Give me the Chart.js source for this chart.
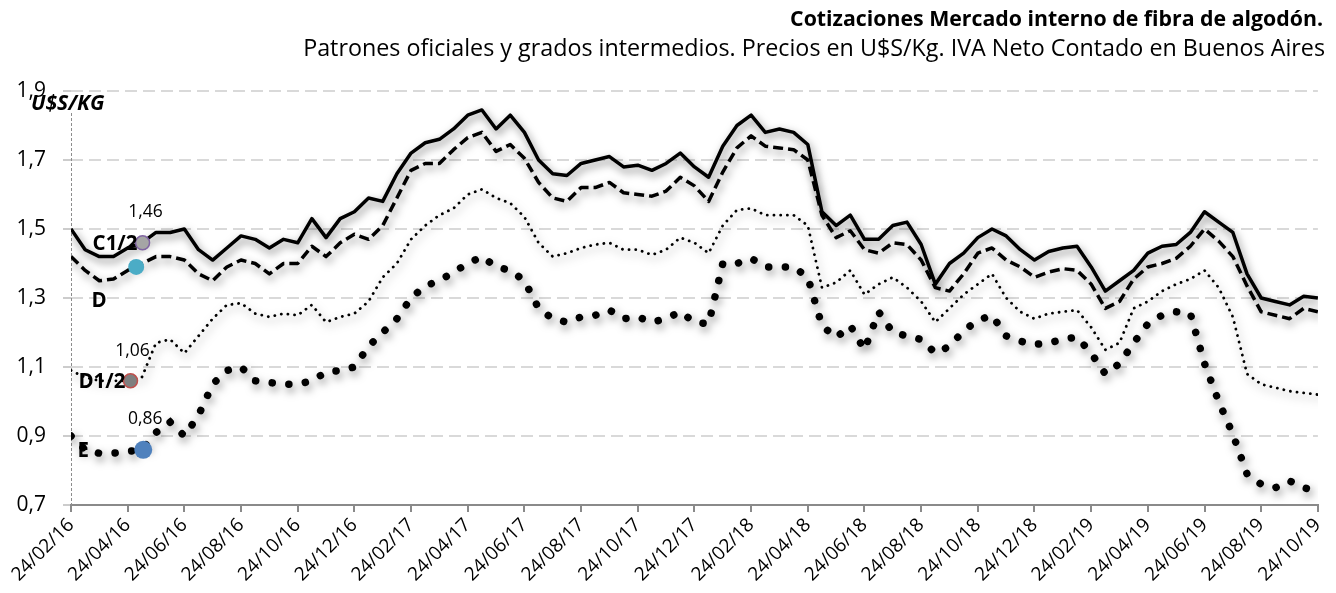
<!DOCTYPE html>
<html>
<head>
<meta charset="utf-8">
<script src="https://cdn.jsdelivr.net/npm/chart.js@4.4.1/dist/chart.umd.min.js"></script>
<style>
  html, body { margin: 0; padding: 0; background: #fff; }
</style>
</head>
<body>
<canvas id="the-graph" width="1336" height="593"></canvas>
<script>
// x ticks every two months, data every half month (index 0..88)
var tickLabels = ['24/02/16', '24/04/16', '24/06/16', '24/08/16', '24/10/16', '24/12/16',
  '24/02/17', '24/04/17', '24/06/17', '24/08/17', '24/10/17', '24/12/17',
  '24/02/18', '24/04/18', '24/06/18', '24/08/18', '24/10/18', '24/12/18',
  '24/02/19', '24/04/19', '24/06/19', '24/08/19', '24/10/19'];

var c12 = [1.50, 1.44, 1.42, 1.42, 1.445, 1.46, 1.49, 1.49, 1.50, 1.44,
  1.41, 1.445, 1.48, 1.47, 1.445, 1.47, 1.46, 1.53, 1.475, 1.53,
  1.55, 1.59, 1.58, 1.66, 1.72, 1.75, 1.76, 1.79, 1.83, 1.845,
  1.79, 1.83, 1.78, 1.70, 1.66, 1.655, 1.69, 1.70, 1.71, 1.68,
  1.685, 1.67, 1.69, 1.72, 1.68, 1.65, 1.74, 1.80, 1.83, 1.78,
  1.79, 1.78, 1.745, 1.55, 1.51, 1.54, 1.47, 1.47, 1.51, 1.52,
  1.455, 1.34, 1.40, 1.43, 1.475, 1.50, 1.48, 1.44, 1.41, 1.435,
  1.445, 1.45, 1.39, 1.32, 1.35, 1.38, 1.43, 1.45, 1.455, 1.49,
  1.55, 1.52, 1.49, 1.37, 1.30, 1.29, 1.28, 1.305, 1.30];

var d = [1.42, 1.38, 1.35, 1.355, 1.38, 1.40, 1.42, 1.42, 1.41, 1.37,
  1.35, 1.39, 1.41, 1.40, 1.37, 1.40, 1.40, 1.45, 1.42, 1.46,
  1.485, 1.47, 1.51, 1.59, 1.67, 1.69, 1.69, 1.73, 1.765, 1.78,
  1.725, 1.745, 1.705, 1.635, 1.59, 1.58, 1.62, 1.62, 1.635, 1.605,
  1.60, 1.595, 1.61, 1.65, 1.625, 1.58, 1.665, 1.735, 1.77, 1.74,
  1.735, 1.73, 1.70, 1.54, 1.475, 1.495, 1.44, 1.43, 1.46, 1.455,
  1.41, 1.33, 1.32, 1.37, 1.43, 1.445, 1.41, 1.39, 1.36, 1.375,
  1.385, 1.38, 1.34, 1.27, 1.29, 1.355, 1.39, 1.40, 1.415, 1.45,
  1.50, 1.465, 1.42, 1.335, 1.26, 1.25, 1.24, 1.27, 1.26];

var d12 = [1.09, 1.07, 1.06, 1.06, 1.06, 1.07, 1.17, 1.18, 1.14, 1.19,
  1.24, 1.28, 1.285, 1.255, 1.245, 1.255, 1.25, 1.28, 1.23, 1.245,
  1.255, 1.29, 1.36, 1.40, 1.47, 1.51, 1.54, 1.56, 1.60, 1.615,
  1.59, 1.575, 1.535, 1.46, 1.42, 1.43, 1.445, 1.455, 1.46, 1.44,
  1.44, 1.425, 1.44, 1.475, 1.46, 1.43, 1.51, 1.555, 1.56, 1.54,
  1.54, 1.54, 1.51, 1.33, 1.345, 1.38, 1.31, 1.34, 1.36, 1.33,
  1.29, 1.23, 1.27, 1.31, 1.34, 1.37, 1.30, 1.26, 1.24, 1.255,
  1.26, 1.265, 1.215, 1.15, 1.17, 1.27, 1.29, 1.32, 1.34, 1.355,
  1.38, 1.33, 1.245, 1.08, 1.05, 1.04, 1.03, 1.025, 1.02];

var e = [0.90, 0.86, 0.85, 0.85, 0.855, 0.86, 0.91, 0.94, 0.90, 0.96,
  1.05, 1.09, 1.10, 1.06, 1.055, 1.05, 1.05, 1.06, 1.085, 1.09,
  1.10, 1.16, 1.20, 1.24, 1.30, 1.335, 1.35, 1.375, 1.40, 1.42,
  1.39, 1.38, 1.35, 1.27, 1.24, 1.23, 1.245, 1.25, 1.265, 1.24,
  1.245, 1.23, 1.24, 1.26, 1.23, 1.225, 1.40, 1.40, 1.415, 1.39,
  1.39, 1.39, 1.36, 1.22, 1.185, 1.22, 1.15, 1.26, 1.20, 1.19,
  1.18, 1.14, 1.16, 1.205, 1.235, 1.25, 1.19, 1.175, 1.165, 1.17,
  1.18, 1.187, 1.14, 1.08, 1.11, 1.17, 1.225, 1.25, 1.26, 1.255,
  1.11, 1.00, 0.905, 0.79, 0.76, 0.75, 0.77, 0.75, 0.74];

// highlighted points (C1/2, D, D1/2, E)
var markNames = ['C1/2', 'D', 'D1/2', 'E'];
var markX = [5.05, 4.6, 4.2, 5.1];
var markY = [1.46, 1.39, 1.06, 0.86];

var FONT = '"Open Sans", sans-serif';

function pts(arr) {
  return arr.map(function (v, i) { return { x: i, y: v }; });
}
function comma(v) {
  return v.toFixed(2).replace(/0$/, '').replace('.', ',');
}

var decor = {
  id: 'decor',
  beforeDatasetsDraw: function (chart) {
    var ctx = chart.ctx, a = chart.chartArea;
    ctx.save();
    ctx.strokeStyle = '#8c8c8c';
    ctx.lineWidth = 1;
    ctx.setLineDash([3, 2]);
    ctx.beginPath();
    ctx.moveTo(a.left + 0.5, a.top + 22);
    ctx.lineTo(a.left + 0.5, a.bottom);
    ctx.stroke();
    ctx.restore();
  },
  beforeDatasetDraw: function (chart, args) {
    if (args.index > 3) return;
    var ctx = chart.ctx;
    ctx.save();
    ctx.shadowColor = 'rgba(0,0,0,0.5)';
    ctx.shadowBlur = 8;
    ctx.shadowOffsetX = 2;
    ctx.shadowOffsetY = 4;
  },
  afterDatasetDraw: function (chart, args) {
    if (args.index > 3) return;
    chart.ctx.restore();
  },
  afterDraw: function (chart) {
    var ctx = chart.ctx, sx = chart.scales.x, sy = chart.scales.y;
    ctx.save();
    ctx.fillStyle = '#000';
    ctx.textBaseline = 'alphabetic';
    ctx.textAlign = 'right';
    ctx.font = 'bold 21.3px ' + FONT;
    ctx.fillText('Cotizaciones Mercado interno de fibra de algodón.', 1323, 26);
    ctx.font = '23.3px ' + FONT;
    ctx.fillText('Patrones oficiales y grados intermedios. Precios en U$S/Kg. IVA Neto Contado en Buenos Aires', 1325, 56);

    ctx.textAlign = 'left';
    ctx.font = 'italic bold 21px ' + FONT;
    ctx.fillText('U$S/KG', 31, 110);

    // marker labels
    var px = markX.map(function (v) { return sx.getPixelForValue(v); });
    var py = markY.map(function (v) { return sy.getPixelForValue(v); });
    ctx.textBaseline = 'middle';
    ctx.font = '17.5px ' + FONT;
    ctx.textAlign = 'center';
    ctx.fillText(comma(markY[0]), px[0] + 3, py[0] - 31);
    ctx.fillText(comma(markY[2]), px[2] + 2, py[2] - 30);
    ctx.fillText(comma(markY[3]), px[3] + 2, py[3] - 31);

    ctx.font = 'bold 20.5px ' + FONT;
    ctx.textAlign = 'right';
    ctx.fillText(markNames[0], px[0] - 5, py[0] + 1);
    ctx.fillText(markNames[2], px[2] - 5, py[2] + 1);
    ctx.textAlign = 'center';
    ctx.fillText(markNames[1], px[1] - 37, py[1] + 34);
    ctx.fillText(markNames[3], px[3] - 60, py[3] + 1);
    ctx.restore();
  }
};

function marker(k, fill, stroke, r) {
  return {
    label: markNames[k] + ' punto',
    data: [{ x: markX[k], y: markY[k] }],
    showLine: false,
    order: -1,
    pointRadius: r,
    pointBackgroundColor: fill,
    pointBorderColor: stroke,
    pointBorderWidth: stroke ? 1.5 : 0
  };
}

var chart = new Chart(document.getElementById('the-graph'), {
  type: 'line',
  data: {
    datasets: [
      { label: 'C1/2', data: pts(c12), borderColor: '#000', borderWidth: 3.5,
        pointRadius: 0, borderJoinStyle: 'round' },
      { label: 'D', data: pts(d), borderColor: '#000', borderWidth: 3.5,
        borderDash: [10, 5], pointRadius: 0, borderJoinStyle: 'round' },
      { label: 'D1/2', data: pts(d12), borderColor: '#000', borderWidth: 2.8,
        borderDash: [0.1, 6.6], borderCapStyle: 'round', pointRadius: 0 },
      { label: 'E', data: pts(e), borderColor: '#000', borderWidth: 7.5,
        borderDash: [0.1, 16.6], borderCapStyle: 'round', pointRadius: 0 },
      marker(0, '#a5a5a5', '#8064a2', 7),
      marker(1, '#4bacc6', null, 8),
      marker(2, '#7f7f7f', '#c0504d', 7),
      marker(3, '#4f81bd', null, 9)
    ]
  },
  options: {
    responsive: false,
    animation: false,
    devicePixelRatio: 1,
    layout: { padding: { top: 91, right: 17, left: 0, bottom: 0 } },
    plugins: { legend: { display: false }, tooltip: { enabled: false } },
    scales: {
      x: {
        type: 'linear',
        min: 0,
        max: 88,
        afterBuildTicks: function (s) {
          s.ticks = tickLabels.map(function (t, k) { return { value: k * 4 }; });
        },
        afterFit: function (s) { s.height = 88; },
        ticks: {
          autoSkip: false,
          maxRotation: 45,
          minRotation: 45,
          padding: 2,
          color: '#000',
          font: { family: FONT, size: 19 },
          callback: function (v) { return tickLabels[Math.round(v / 4)]; }
        },
        grid: { drawOnChartArea: false, tickLength: 7, color: '#8a8a8a', lineWidth: 2 },
        border: { color: '#8a8a8a', width: 2 }
      },
      y: {
        min: 0.7,
        max: 1.9,
        afterFit: function (s) { s.width = 71; },
        ticks: {
          stepSize: 0.2,
          padding: 17,
          color: '#000',
          font: { family: FONT, size: 21 },
          callback: function (v) { return v.toFixed(1).replace('.', ','); }
        },
        grid: { color: '#d9d9d9', lineWidth: 2, tickLength: 8, tickColor: '#999', tickWidth: 1 },
        border: { display: false, dash: [12, 6] }
      }
    }
  },
  plugins: [decor]
});
</script>
</body>
</html>
